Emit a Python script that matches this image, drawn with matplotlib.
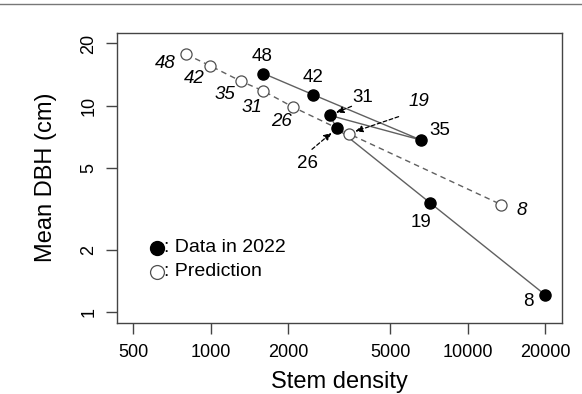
import numpy as np
import matplotlib
matplotlib.use('Agg')
from matplotlib import pyplot as plt
from matplotlib.lines import Line2D

# data (ages as labels)
ages = ['48', '42', '35', '31', '26', '19', '8']
obs_density = [1605, 2500, 6590, 2900, 3100, 7110, 20000]
obs_dbh = [14.3, 11.3, 6.8, 8.97, 7.76, 3.39, 1.21]
pred_density = [805, 995, 1316, 1596, 2100, 3440, 13500]
pred_dbh = [17.7, 15.6, 13.1, 11.8, 9.81, 7.31, 3.31]

x_ticks = [500, 1000, 2000, 5000, 10000, 20000]
y_ticks = [1, 2, 5, 10, 20]

# label offsets in pixels (dx, dy) relative to each point
obs_off = {'48': (-1, 17), '42': (0, 17), '35': (19, 10), '31': (33, 18),
           '26': (-29, -35), '19': (-9, -20), '8': (-17, -7)}
pred_off = {'48': (-21, -9), '42': (-16, -13), '35': (-16, -13), '31': (-11, -17),
            '26': (-12, -14), '19': (70, 32), '8': (20, -6)}
# dashed arrows: (which series, age, start offset px)
arrows = [('obs', '31', (22, 9)), ('obs', '26', (-25, -21)), ('pred', '19', (50, 17))]

plt.rcParams['font.family'] = ['Liberation Sans', 'DejaVu Sans']

fig = plt.figure(figsize=(5.82, 3.94), dpi=100)
ax = fig.add_axes([0.2005, 0.181, 0.7646, 0.736])

line_col = '#606060'
ax.plot(obs_density, obs_dbh, '-', color=line_col, lw=1.0, zorder=1)
ax.plot(pred_density, pred_dbh, '--', color=line_col, lw=1.0, dashes=(4, 3), zorder=1)
ax.plot(obs_density, obs_dbh, 'o', color='black', ms=8, mec='black', ls='none', zorder=3)
ax.plot(pred_density, pred_dbh, 'o', color='white', ms=8, mec='#505050', mew=0.9, ls='none', zorder=3)

ax.set_xscale('log')
ax.set_yscale('log')
lx = np.log10([500, 20000]); ly = np.log10([1, 20])
ax.set_xlim(10 ** (lx[0] - 0.04 * (lx[1] - lx[0])), 10 ** (lx[1] + 0.04 * (lx[1] - lx[0])))
ax.set_ylim(10 ** (ly[0] - 0.04 * (ly[1] - ly[0])), 10 ** (ly[1] + 0.04 * (ly[1] - ly[0])))

ax.set_xticks(x_ticks)
ax.set_xticklabels([str(t) for t in x_ticks])
ax.set_yticks(y_ticks)
ax.set_yticklabels([str(t) for t in y_ticks], rotation=90, va='center')
ax.minorticks_off()
ax.tick_params(axis='both', labelsize=13, length=8, width=1, color='#444444', direction='out')
ax.tick_params(axis='x', pad=7)
ax.tick_params(axis='y', pad=6)
for s in ax.spines.values():
    s.set_color('#444444')
    s.set_linewidth(1)

ax.set_xlabel('Stem density', fontsize=17)
ax.set_ylabel('Mean DBH (cm)', fontsize=17)
ax.xaxis.set_label_coords(0.5, -0.165)
ax.yaxis.set_label_coords(-0.135, 0.5)

px = 0.72  # points per pixel at 100 dpi
for i, a in enumerate(ages):
    dx, dy = obs_off[a]
    ax.annotate(a, (obs_density[i], obs_dbh[i]), xytext=(dx * px, dy * px),
                textcoords='offset points', ha='center', va='center', fontsize=13.5)
    dx, dy = pred_off[a]
    ax.annotate(a, (pred_density[i], pred_dbh[i]), xytext=(dx * px, dy * px),
                textcoords='offset points', ha='center', va='center', fontsize=13.5,
                style='italic')

for kind, a, (dx, dy) in arrows:
    i = ages.index(a)
    if kind == 'obs':
        pt = (obs_density[i], obs_dbh[i])
    else:
        pt = (pred_density[i], pred_dbh[i])
    ax.annotate('', xy=pt, xytext=(dx * px, dy * px), textcoords='offset points',
                arrowprops=dict(arrowstyle='-|>,head_length=0.45,head_width=0.2',
                                color='black', lw=0.9, ls=(0, (3, 2)),
                                shrinkA=0, shrinkB=5))

# legend drawn as symbols + text
ax.plot([0.09], [0.258], 'o', color='black', ms=10, transform=ax.transAxes)
ax.plot([0.09], [0.176], 'o', color='white', mec='#505050', mew=0.9, ms=10,
        transform=ax.transAxes)
ax.text(0.106, 0.258, ': Data in 2022', transform=ax.transAxes, fontsize=14,
        va='center', ha='left')
ax.text(0.106, 0.176, ': Prediction', transform=ax.transAxes, fontsize=14,
        va='center', ha='left')

fig.add_artist(Line2D([0, 1], [0.991, 0.991], color='#777777', lw=1,
                      transform=fig.transFigure))

fig.savefig('out.png', dpi=100)
